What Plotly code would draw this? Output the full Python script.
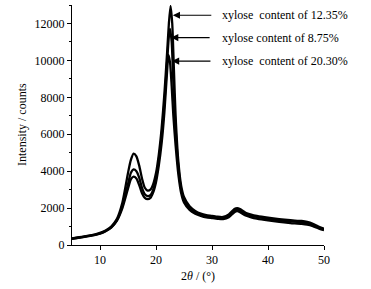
import plotly.graph_objects as go

# 12.35% xylose
xa = [5,7,9,10,11,12,13,14,15,15.5,16,16.5,17,17.5,18,18.5,19,19.5,20,20.5,21,21.5,22,22.3,22.6,22.9,23.2,23.5,24,24.5,25,26,27,28,29,30,31,32,33,34,34.5,35,36,37,38,40,42,44,46,47,48,49,50]
ya = [360,450,560,660,790,1000,1400,2300,3900,4600,4950,4800,4300,3600,3100,2950,3000,3300,3900,4900,6300,8200,10500,12000,12950,12000,9500,7000,4500,3200,2600,2100,1850,1700,1620,1580,1530,1520,1650,1950,2000,1950,1750,1650,1580,1480,1400,1340,1300,1250,1150,1000,880]

# 8.75% xylose
xb = [5,7,9,10,11,12,13,14,15,15.5,16,16.5,17,17.5,18,18.5,19,19.5,20,20.5,21,21.5,22,22.3,22.5,22.8,23.1,23.5,24,24.5,25,26,27,28,29,30,31,32,33,34,34.5,35,36,37,38,40,42,44,46,47,48,49,50]
yb = [345,440,550,630,760,960,1330,2100,3300,3900,4100,4000,3650,3100,2750,2650,2700,3000,3600,4600,5900,7700,10000,11300,11700,11000,8800,6300,4200,3000,2450,2000,1780,1640,1560,1520,1480,1470,1580,1870,1920,1870,1680,1580,1520,1420,1340,1280,1230,1180,1080,950,850]

# 20.30% xylose
xc = [5,7,9,10,11,12,13,14,15,15.5,16,16.5,17,17.5,18,18.5,19,19.5,20,20.5,21,21.5,22,22.2,22.5,22.8,23.1,23.5,24,24.5,25,26,27,28,29,30,31,32,33,34,34.5,35,36,37,38,40,42,44,46,47,48,49,50]
yc = [330,430,540,610,740,940,1300,2000,3050,3550,3700,3600,3250,2800,2550,2480,2550,2850,3400,4300,5500,7200,9500,10300,9900,8600,7000,5400,3800,2800,2300,1900,1700,1580,1500,1460,1420,1400,1500,1780,1830,1780,1600,1500,1430,1330,1250,1190,1140,1100,1020,900,800]

labels = ["xylose  content of 12.35%", "xylose content of 8.75%", "xylose  content of 20.30%"]
arrow_x = [23.0, 22.7, 22.85]
arrow_y = [12445, 11234, 9962]
text_x = 31.4

x_ticks = [10, 20, 30, 40, 50]
y_ticks = [0, 2000, 4000, 6000, 8000, 10000, 12000]

FONT = "Liberation Serif"
TF = dict(family=FONT, size=12, color="black")

fig = go.Figure()
for xs, ys in [(xa, ya), (xb, yb), (xc, yc)]:
    fig.add_trace(go.Scatter(x=xs, y=ys, mode="lines",
                             line=dict(color="black", width=2.3, shape="spline", smoothing=0.6),
                             showlegend=False, hoverinfo="skip"))

for lab, ax_, ay_ in zip(labels, arrow_x, arrow_y):
    fig.add_annotation(x=ax_, y=ay_, xref="x", yref="y", text="", showarrow=True,
                       ax=40, ay=0, arrowhead=2, arrowsize=1.2, arrowwidth=1.2,
                       arrowcolor="black")
    fig.add_annotation(x=text_x, y=ay_, xref="x", yref="y", text=lab, showarrow=False,
                       xanchor="left", yanchor="middle", font=TF)

# axis titles
fig.add_annotation(x=0, y=0.5, xref="paper", yref="paper", xanchor="center", yanchor="middle",
                   text="Intensity / counts", textangle=-90, showarrow=False, font=TF,
                   xshift=-50)
fig.add_annotation(x=0.5, y=0, xref="paper", yref="paper", xanchor="center", yanchor="middle",
                   text="2<i>θ</i> / (°)", showarrow=False, font=TF, yshift=-31)

fig.update_layout(
    width=371, height=289,
    margin=dict(l=72, r=47, t=5, b=44),
    paper_bgcolor="white", plot_bgcolor="white",
    font=TF,
    xaxis=dict(range=[5, 50], tickvals=x_ticks, ticktext=[str(v) for v in x_ticks],
               showline=True, linecolor="black",
               linewidth=1, ticks="outside", ticklen=4, tickcolor="black", showgrid=False,
               zeroline=False, mirror=False, automargin=False, tickfont=TF),
    yaxis=dict(range=[0, 13000], tickvals=y_ticks, ticktext=[str(v) for v in y_ticks],
               showline=True, linecolor="black", linewidth=1, ticks="outside", ticklen=4,
               tickcolor="black", showgrid=False, zeroline=False, automargin=False, tickfont=TF,
               minor=dict(dtick=1000, ticks="outside", ticklen=2, tickcolor="black")),
)

fig.write_html("out.html", config={"displayModeBar": False},
               post_script="document.body.style.margin='0';document.body.style.overflow='hidden';")
